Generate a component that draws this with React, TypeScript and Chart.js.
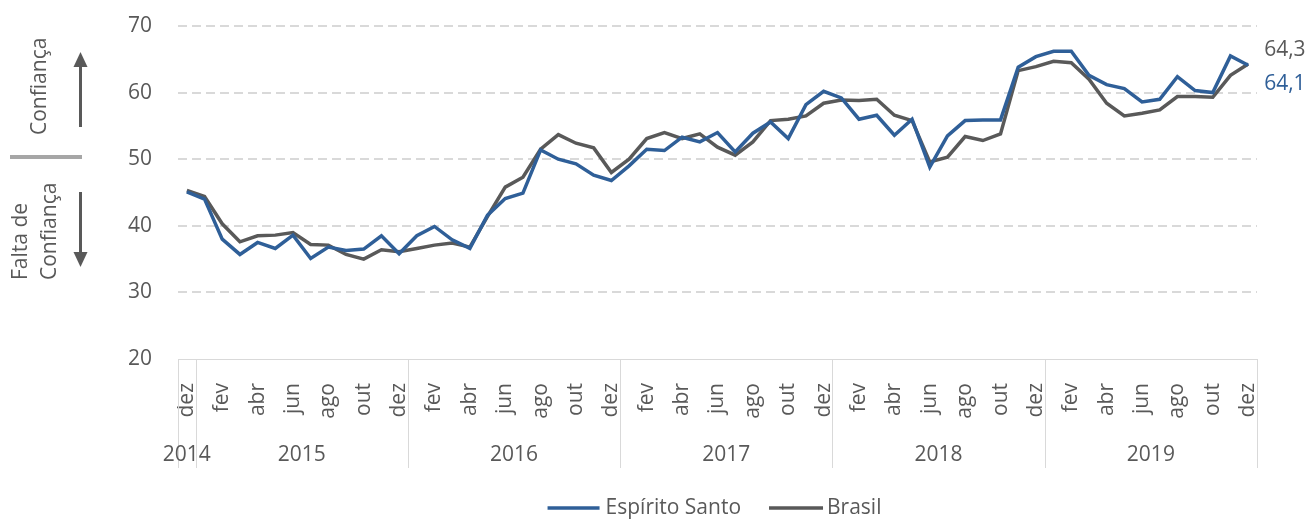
import React, { useEffect, useRef } from 'react';
import { Chart, registerables } from 'chart.js';

Chart.register(...registerables);

const monthNames = ['jan', 'fev', 'mar', 'abr', 'mai', 'jun', 'jul', 'ago', 'set', 'out', 'nov', 'dez'];
const years = ['2014', '2015', '2016', '2017', '2018', '2019'];
const yearSpans = [1, 12, 12, 12, 12, 12];
const categories: string[] = ['dez'];
for (let k = 1; k < years.length; k++) categories.push(...monthNames);

const espiritoSanto = [
  45.1, 44.0, 38.0, 35.7, 37.5, 36.6, 38.6, 35.1, 36.8, 36.3, 36.5, 38.5, 35.8,
  38.5, 39.9, 37.9, 36.6, 41.6, 44.1, 44.9, 51.4, 50.0, 49.3, 47.6, 46.8,
  49.0, 51.5, 51.3, 53.3, 52.6, 54.0, 51.1, 53.9, 55.6, 53.1, 58.2, 60.2,
  59.2, 56.0, 56.6, 53.6, 56.0, 48.8, 53.5, 55.8, 55.9, 55.9, 63.8, 65.4,
  66.2, 66.2, 62.6, 61.2, 60.6, 58.6, 59.0, 62.4, 60.3, 60.0, 65.5, 64.1,
];
const brasil = [
  45.3, 44.4, 40.3, 37.6, 38.5, 38.6, 39.0, 37.2, 37.1, 35.7, 35.0, 36.4, 36.1,
  36.6, 37.1, 37.4, 36.8, 41.4, 45.8, 47.3, 51.5, 53.7, 52.4, 51.7, 48.0,
  50.0, 53.1, 54.0, 53.1, 53.8, 51.8, 50.6, 52.6, 55.8, 56.0, 56.5, 58.4,
  58.9, 58.8, 59.0, 56.6, 55.8, 49.6, 50.3, 53.4, 52.8, 53.8, 63.3, 63.9,
  64.7, 64.5, 62.0, 58.4, 56.5, 56.9, 57.4, 59.4, 59.4, 59.3, 62.6, 64.3,
];
const endLabels = ['64,1', '64,3'];
const seriesNames = ['Espírito Santo', 'Brasil'];
const yTicks = [20, 30, 40, 50, 60, 70];

const BLUE = '#2f5f98';
const GRAY = '#595959';
const TEXT = '#595959';
const FONT = '"Open Sans", sans-serif';
const FS = 21;

const decorPlugin = {
  id: 'decor',
  afterDraw(chart: any) {
    const { ctx, chartArea, scales } = chart;
    const xs = scales.x;
    ctx.save();
    // year separators
    ctx.strokeStyle = '#d9d9d9';
    ctx.lineWidth = 1;
    const bounds: number[] = [chartArea.left];
    let idx = 0;
    yearSpans.forEach((span) => {
      idx += span;
      if (idx < categories.length) {
        bounds.push((xs.getPixelForValue(idx - 1) + xs.getPixelForValue(idx)) / 2);
      }
    });
    bounds.push(chartArea.right);
    bounds.forEach((b) => {
      const xx = Math.round(b) + 0.5;
      ctx.beginPath();
      ctx.moveTo(xx, chartArea.bottom);
      ctx.lineTo(xx, chartArea.bottom + 109);
      ctx.stroke();
    });
    // year labels
    ctx.fillStyle = TEXT;
    ctx.font = `${FS}px ${FONT}`;
    ctx.textAlign = 'center';
    ctx.textBaseline = 'middle';
    let start = 0;
    years.forEach((yr, k) => {
      const end = start + yearSpans[k] - 1;
      const cx = (xs.getPixelForValue(start) + xs.getPixelForValue(end)) / 2;
      ctx.fillText(yr, cx, chartArea.bottom + 96);
      start = end + 1;
    });

    // end labels
    const metaES = chart.getDatasetMeta(0).data;
    const metaBR = chart.getDatasetMeta(1).data;
    const pES = metaES[metaES.length - 1];
    const pBR = metaBR[metaBR.length - 1];
    ctx.textAlign = 'left';
    ctx.fillStyle = GRAY;
    ctx.fillText(endLabels[1], pBR.x + 16, pBR.y - 14);
    ctx.fillStyle = BLUE;
    ctx.fillText(endLabels[0], pES.x + 16, pES.y + 19);

    // legend
    const yL = 508;
    const wA = ctx.measureText(seriesNames[0]).width;
    const wB = ctx.measureText(seriesNames[1]).width;
    const total = 52 + 6 + wA + 28 + 54 + 4 + wB;
    let lx = (chartArea.left + chartArea.right) / 2 - 3 - total / 2;
    ctx.lineWidth = 3.5;
    ctx.strokeStyle = BLUE;
    ctx.beginPath();
    ctx.moveTo(lx, yL);
    ctx.lineTo(lx + 52, yL);
    ctx.stroke();
    lx += 58;
    ctx.fillStyle = TEXT;
    ctx.fillText(seriesNames[0], lx, yL);
    lx += wA + 28;
    ctx.strokeStyle = GRAY;
    ctx.beginPath();
    ctx.moveTo(lx, yL);
    ctx.lineTo(lx + 54, yL);
    ctx.stroke();
    lx += 58;
    ctx.fillText(seriesNames[1], lx, yL);

    // left annotations
    ctx.fillStyle = '#a6a6a6';
    ctx.fillRect(10, 155, 72, 4);
    ctx.strokeStyle = GRAY;
    ctx.fillStyle = GRAY;
    ctx.lineWidth = 3;
    ctx.beginPath();
    ctx.moveTo(80.5, 127);
    ctx.lineTo(80.5, 64);
    ctx.stroke();
    ctx.beginPath();
    ctx.moveTo(80.5, 52);
    ctx.lineTo(73.5, 67);
    ctx.lineTo(87.5, 67);
    ctx.closePath();
    ctx.fill();
    ctx.beginPath();
    ctx.moveTo(80.5, 192);
    ctx.lineTo(80.5, 255);
    ctx.stroke();
    ctx.beginPath();
    ctx.moveTo(80.5, 267);
    ctx.lineTo(73.5, 252);
    ctx.lineTo(87.5, 252);
    ctx.closePath();
    ctx.fill();

    ctx.fillStyle = TEXT;
    ctx.textAlign = 'left';
    ctx.textBaseline = 'middle';
    const rotText = (t: string, x: number, y: number) => {
      ctx.save();
      ctx.translate(x, y);
      ctx.rotate(-Math.PI / 2);
      ctx.fillText(t, 0, 0);
      ctx.restore();
    };
    rotText('Confiança', 40, 135);
    rotText('Falta de', 21, 280);
    rotText('Confiança', 50, 280);
    ctx.restore();
  },
};

export default function App() {
  const ref = useRef<HTMLCanvasElement | null>(null);
  useEffect(() => {
    if (!ref.current) return;
    const chart = new Chart(ref.current, {
      type: 'line',
      data: {
        labels: categories,
        datasets: [
          {
            label: seriesNames[0],
            data: espiritoSanto,
            borderColor: BLUE,
            backgroundColor: BLUE,
            borderWidth: 3.5,
            pointRadius: 0,
            tension: 0,
          },
          {
            label: seriesNames[1],
            data: brasil,
            borderColor: GRAY,
            backgroundColor: GRAY,
            borderWidth: 3.5,
            pointRadius: 0,
            tension: 0,
          },
        ],
      },
      options: {
        responsive: false,
        animation: false,
        layout: { padding: { left: 0, right: 51, top: 26, bottom: 0 } },
        plugins: { legend: { display: false }, tooltip: { enabled: false } },
        scales: {
          x: {
            offset: true,
            grid: { display: true, color: 'transparent', drawTicks: false, offset: true },
            border: { display: true, color: '#d9d9d9', width: 1 },
            ticks: {
              autoSkip: false,
              minRotation: 90,
              maxRotation: 90,
              padding: 24,
              color: TEXT,
              font: { family: FONT, size: FS },
              callback: (_v: any, i: number) => (i % 2 === 0 ? categories[i] : ''),
            },
            afterFit: (s: any) => {
              s.height = 162;
            },
          },
          y: {
            min: yTicks[0],
            max: yTicks[yTicks.length - 1],
            afterBuildTicks: (s: any) => {
              s.ticks = yTicks.map((v) => ({ value: v }));
            },
            grid: {
              color: (c: any) => (c.tick && c.tick.value === yTicks[0] ? 'transparent' : '#d9d9d9'),
              lineWidth: 2,
              drawTicks: false,
            },
            border: { display: false, dash: [9, 5] },
            ticks: {
              padding: 26,
              color: TEXT,
              font: { family: FONT, size: FS },
            },
            afterFit: (s: any) => {
              s.width = 178;
              s.paddingTop = 0;
              s.paddingBottom = 0;
            },
          },
        },
      },
      plugins: [decorPlugin],
    });
    return () => chart.destroy();
  }, []);
  return (
    <div style={{ position: 'fixed', left: 0, top: 0, width: 1308, height: 521, background: '#fff' }}>
      <canvas ref={ref} width={1308} height={521} style={{ width: 1308, height: 521 }} />
    </div>
  );
}
